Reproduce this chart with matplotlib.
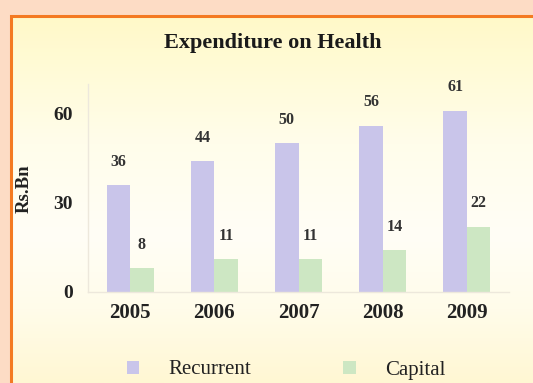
import numpy as np
import matplotlib
matplotlib.use("Agg")
import matplotlib.pyplot as plt
from matplotlib.colors import LinearSegmentedColormap
from matplotlib.lines import Line2D

years = ["2005", "2006", "2007", "2008", "2009"]
recurrent = [36, 44, 50, 56, 61]
capital = [8, 11, 11, 14, 22]

plt.rcParams["font.family"] = ["Liberation Serif", "DejaVu Serif"]

W, H = 533, 383
fig = plt.figure(figsize=(W/100, H/100), dpi=100)
fig.patch.set_facecolor("#FDDCC5")

# panel with soft yellow gradient and orange frame (left and top edges only)
bx, by = 10.5/W, 15.5/H
bg = fig.add_axes([bx, 0, 1 - bx, 1 - by], zorder=0)
grad = LinearSegmentedColormap.from_list(
    "panel", [(0, "#FFF9C8"), (0.35, "#FFFDEB"), (0.6, "#FFFEF6"),
              (0.8, "#FFFCEA"), (1, "#FFF7D3")])
bg.imshow(np.linspace(0, 1, 256).reshape(-1, 1), aspect="auto", cmap=grad,
          extent=[0, 1, 0, 1], origin="upper")
bg.set_axis_off()
fig.lines.append(Line2D([bx, bx, 1.0], [0.0, 1 - by, 1 - by], transform=fig.transFigure,
                        color="#F47A22", lw=2.2, solid_joinstyle="miter",
                        solid_capstyle="butt", zorder=1))

ax = fig.add_axes([88/W, 1 - 292/H, 421/W, 208/H], zorder=2)
ax.patch.set_alpha(0)
x = np.arange(len(years))
w = 0.28
b1 = ax.bar(x - w/2, recurrent, w, color="#C9C5EA", label="Recurrent")
b2 = ax.bar(x + w/2, capital, w, color="#CDE7C3", label="Capital")
for bars, vals in ((b1, recurrent), (b2, capital)):
    for r, v in zip(bars, vals):
        ax.annotate(str(v), (r.get_x() + r.get_width()/2, v), xytext=(0, 11),
                    textcoords="offset points", ha="center", va="bottom",
                    fontsize=11.5, fontweight="bold", color="#333333")

ax.set_xlim(-0.5, 4.5)
ax.set_ylim(0, 70)
ax.set_yticks([0, 30, 60])
ax.set_xticks(x)
ax.set_xticklabels(years)
ax.tick_params(axis="y", length=0, labelsize=14, labelcolor="#222222", pad=11)
ax.tick_params(axis="x", length=0, labelsize=15, labelcolor="#222222", pad=8)
for lbl in ax.get_xticklabels() + ax.get_yticklabels():
    lbl.set_fontweight("bold")
for s in ("top", "right"):
    ax.spines[s].set_visible(False)
for s in ("left", "bottom"):
    ax.spines[s].set_color("#EDE8DC")
    ax.spines[s].set_linewidth(1.0)

fig.text(24/W, 1 - 189/H, "Rs.Bn", rotation=90, ha="center", va="center",
         fontsize=13.5, fontweight="bold", color="#222222")
fig.text(273/W, 1 - 43/H, "Expenditure on Health", ha="center", va="center",
         fontsize=16, fontweight="bold", color="#1A1A1A")

leg = fig.legend(handles=[b1, b2], labels=["Recurrent", "Capital"],
                 loc="center", bbox_to_anchor=(286/W, 1 - 370/H), ncol=2,
                 frameon=False, fontsize=15, handlelength=0.6, handleheight=0.6,
                 handletextpad=1.4, columnspacing=4.4)
for t in leg.get_texts():
    t.set_color("#222222")

fig.savefig("out.png", dpi=100, facecolor=fig.get_facecolor())
